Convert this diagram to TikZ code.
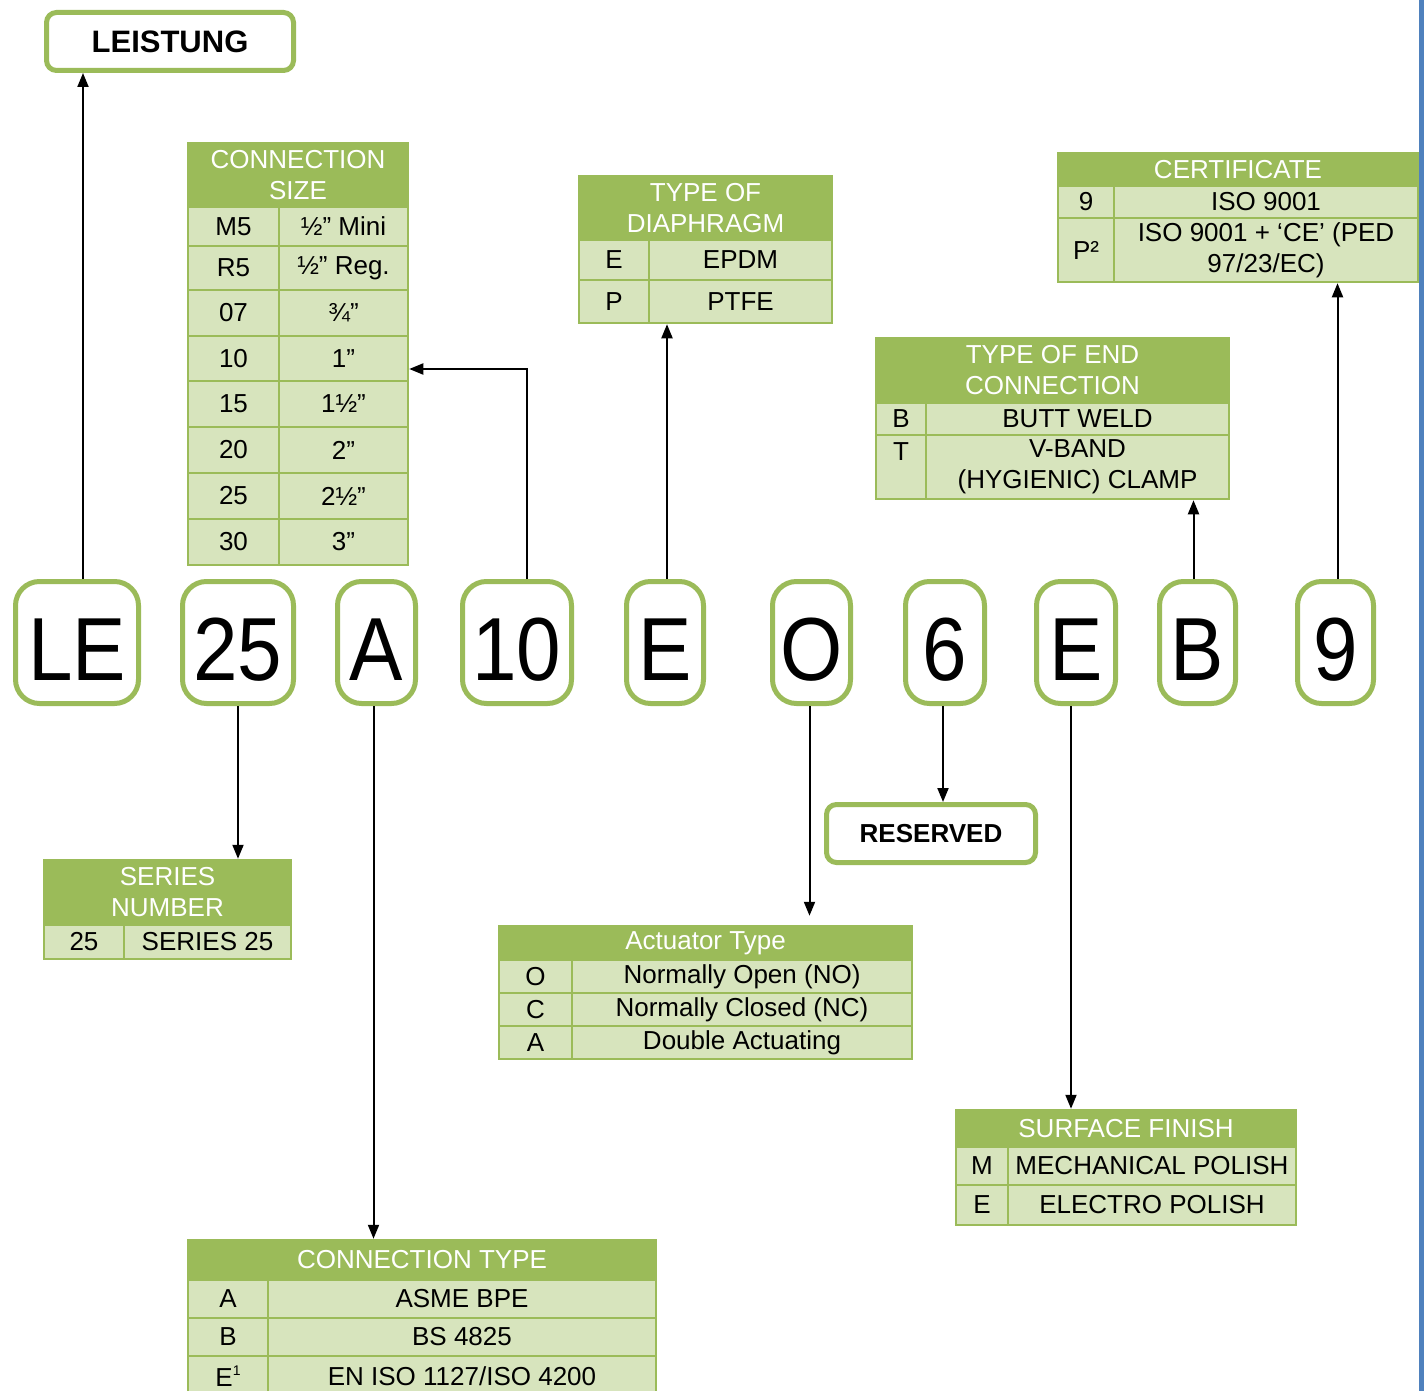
\documentclass[tikz,border=0pt]{standalone}
\usepackage{fontspec}
\setmainfont{Liberation Sans}
\usetikzlibrary{arrows.meta,positioning}
\definecolor{hdrgreen}{HTML}{9BBB59}
\definecolor{cellgreen}{HTML}{D7E4BD}
\definecolor{edgeblue}{HTML}{4F81BD}
\tikzset{
tcell/.style={
  draw=hdrgreen, fill=cellgreen, line width=2.5pt,
  inner sep=0pt, align=center,
  font=\fontsize{26}{31}\selectfont
},
thead/.style={tcell, fill=hdrgreen, text=white},
codebox/.style={
  draw=hdrgreen, fill=white, line width=5pt, rounded corners=24pt,
  inner sep=0pt, text height=75pt, text depth=0pt,
  font=\fontsize{80}{80}\selectfont
},
tagbox/.style={draw=hdrgreen, fill=white, line width=5pt, rounded corners=10pt, inner sep=0pt},
arr/.style={-{Triangle[width=11pt,length=14pt]}, line width=2pt},
}
% one table cell from its corners (x1,y1) (x2,y2)
\newcommand{\tblcell}[7][tcell]{%
  \pgfmathsetmacro\cellw{#5-#3}\pgfmathsetmacro\cellh{#6-#4}%
  \node[#1, minimum width=\cellw pt, minimum height=\cellh pt] (#2) at ({(#3+#5)/2},{(#4+#6)/2}) {#7};}
% one letter box of the order code
\newcommand{\codekey}[4]{%
  \pgfmathsetmacro\cellw{#3-#2-5}%
  \node[codebox, minimum width=\cellw pt, minimum height=122pt] (#1) at ({(#2+#3)/2},642.5) {\scalebox{1}[1.12]{#4}};}

\begin{document}
\begin{tikzpicture}[x=1pt,y=-1pt]
\useasboundingbox[fill=white] (0,0) rectangle (1424,1391);
\fill[edgeblue] (1419,0) rectangle (1424,1391);

% order code
\codekey{kLE}{13}{141}{LE}
\codekey{k25}{180}{296}{25}
\codekey{kA}{335}{418}{A}
\codekey{k10}{460}{574}{10}
\codekey{kE}{624}{706}{E}
\codekey{kO}{770}{853}{O}
\codekey{k6}{903}{987}{6}
\codekey{kE2}{1034}{1118}{E}
\codekey{kB}{1157}{1238}{B}
\codekey{k9}{1295}{1376}{9}

\node[tagbox, minimum width=247pt, minimum height=58pt, font=\fontsize{31}{31}\selectfont\bfseries] (leist) at (170,41.5) {LEISTUNG};
\node[tagbox, minimum width=209pt, minimum height=58pt, font=\fontsize{26}{26}\selectfont\bfseries] (res) at (931,833.5) {RESERVED};

% connection size
\tblcell[thead]{cs-h}{188}{143}{408}{207}{CONNECTION\\SIZE}
\tblcell{cs-1-1}{188}{207}{279}{246}{M5}
\tblcell{cs-1-2}{279}{207}{408}{246}{½” Mini}
\tblcell{cs-2-1}{188}{246}{279}{290}{R5}
\tblcell{cs-2-2}{279}{246}{408}{290}{½” Reg.}
\tblcell{cs-3-1}{188}{290}{279}{336}{07}
\tblcell{cs-3-2}{279}{290}{408}{336}{¾”}
\tblcell{cs-4-1}{188}{336}{279}{381}{10}
\tblcell{cs-4-2}{279}{336}{408}{381}{1”}
\tblcell{cs-5-1}{188}{381}{279}{427}{15}
\tblcell{cs-5-2}{279}{381}{408}{427}{1½”}
\tblcell{cs-6-1}{188}{427}{279}{473}{20}
\tblcell{cs-6-2}{279}{427}{408}{473}{2”}
\tblcell{cs-7-1}{188}{473}{279}{519}{25}
\tblcell{cs-7-2}{279}{473}{408}{519}{2½”}
\tblcell{cs-8-1}{188}{519}{279}{565}{30}
\tblcell{cs-8-2}{279}{519}{408}{565}{3”}

% diaphragm
\tblcell[thead]{dia-h}{579}{176}{832}{240}{TYPE OF\\DIAPHRAGM}
\tblcell{dia-2-1}{579}{240}{649}{280}{E}
\tblcell{dia-2-2}{649}{240}{832}{280}{EPDM}
\tblcell{dia-3-1}{579}{280}{649}{323}{P}
\tblcell{dia-3-2}{649}{280}{832}{323}{PTFE}

% certificate
\tblcell[thead]{cert-h}{1058}{153}{1418}{186}{CERTIFICATE}
\tblcell{cert-2-1}{1058}{186}{1114}{218}{9}
\tblcell{cert-2-2}{1114}{186}{1418}{218}{ISO 9001}
\tblcell{cert-3-1}{1058}{218}{1114}{282}{P²}
\tblcell{cert-3-2}{1114}{218}{1418}{282}{ISO 9001 + ‘CE’ (PED\\97/23/EC)}

% end connection
\tblcell[thead]{endc-h}{876}{338}{1229}{403}{TYPE OF END\\CONNECTION}
\tblcell{endc-2-1}{876}{403}{926}{435}{B}
\tblcell{endc-2-2}{926}{403}{1229}{435}{BUTT WELD}
\tblcell{endc-3-1}{876}{435}{926}{499}{T\\\mbox{}}
\tblcell{endc-3-2}{926}{435}{1229}{499}{V-BAND\\(HYGIENIC) CLAMP}

% series number
\tblcell[thead]{ser-h}{44}{860}{291}{925}{SERIES\\NUMBER}
\tblcell{ser-2-1}{44}{925}{124}{959}{25}
\tblcell{ser-2-2}{124}{925}{291}{959}{SERIES 25}

% actuator
\tblcell[thead]{act-h}{499}{926}{912}{960}{Actuator Type}
\tblcell{act-2-1}{499}{960}{572}{993}{O}
\tblcell{act-2-2}{572}{960}{912}{993}{Normally Open (NO)}
\tblcell{act-3-1}{499}{993}{572}{1026}{C}
\tblcell{act-3-2}{572}{993}{912}{1026}{Normally Closed (NC)}
\tblcell{act-4-1}{499}{1026}{572}{1059}{A}
\tblcell{act-4-2}{572}{1026}{912}{1059}{Double Actuating}

% surface finish
\tblcell[thead]{surf-h}{956}{1110}{1296}{1147}{SURFACE FINISH}
\tblcell{surf-2-1}{956}{1147}{1008}{1185}{M}
\tblcell{surf-2-2}{1008}{1147}{1296}{1185}{MECHANICAL POLISH}
\tblcell{surf-3-1}{956}{1185}{1008}{1225}{E}
\tblcell{surf-3-2}{1008}{1185}{1296}{1225}{ELECTRO POLISH}

% connection type
\tblcell[thead]{ct-h}{188}{1240}{656}{1280}{CONNECTION TYPE}
\tblcell{ct-2-1}{188}{1280}{268}{1318}{A}
\tblcell{ct-2-2}{268}{1280}{656}{1318}{ASME BPE}
\tblcell{ct-3-1}{188}{1318}{268}{1356}{B}
\tblcell{ct-3-2}{268}{1318}{656}{1356}{BS 4825}
\tblcell{ct-4-1}{188}{1356}{268}{1396}{E\raisebox{11pt}{\fontsize{14}{14}\selectfont 1}}
\tblcell{ct-4-2}{268}{1356}{656}{1396}{EN ISO 1127/ISO 4200}

% connectors
\draw[arr] ([xshift=6pt]kLE.north) -- ([xshift=6pt]kLE.north |- leist.south);
\draw[arr] (k25.south) -- (k25.south |- ser-h.north);
\draw[arr] ([xshift=-3pt]kA.south) -- ([xshift=-3pt]kA.south |- ct-h.north);
\draw[arr] ([xshift=10pt]k10.north) |- ([yshift=-10.5pt]cs-4-2.east);
\draw[arr] ([xshift=2pt]kE.north) -- ([xshift=2pt]kE.north |- dia-3-2.south);
\draw[arr, shorten >=9pt] ([xshift=-2pt]kO.south) -- ([xshift=-2pt]kO.south |- act-h.north);
\draw[arr] ([xshift=-2pt]k6.south) -- ([xshift=-2pt]k6.south |- res.north);
\draw[arr] ([xshift=-5pt]kE2.south) -- ([xshift=-5pt]kE2.south |- surf-h.north);
\draw[arr] ([xshift=-4pt]kB.north) -- ([xshift=-4pt]kB.north |- endc-3-2.south);
\draw[arr] ([xshift=2pt]k9.north) -- ([xshift=2pt]k9.north |- cert-3-2.south);
\end{tikzpicture}
\end{document}
